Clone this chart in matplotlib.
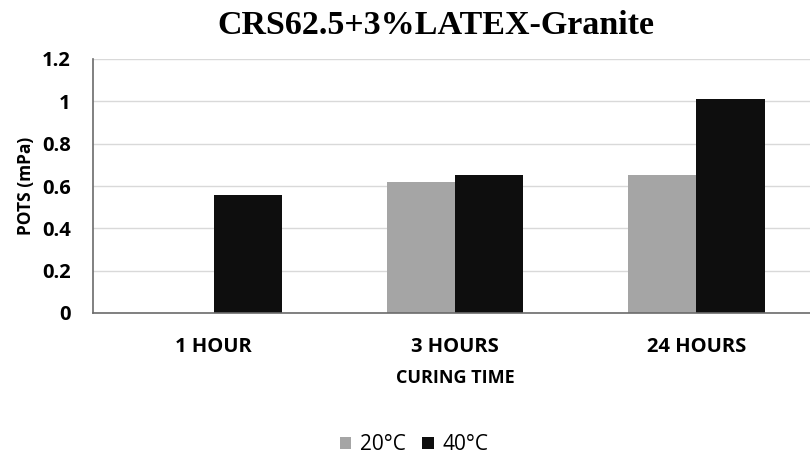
import matplotlib.pyplot as plt
import numpy as np

categories = ['1 HOUR', '3 HOURS', '24 HOURS']
temp_20 = [0.0, 0.62, 0.65]
temp_40 = [0.557, 0.65, 1.009]
series_labels = ['20°C', '40°C']
y_ticks = [0, 0.2, 0.4, 0.6, 0.8, 1.0, 1.2]
y_tick_labels = ['0', '0.2', '0.4', '0.6', '0.8', '1', '1.2']

sans = ['Open Sans', 'DejaVu Sans']

fig = plt.figure(figsize=(8.1, 4.54), dpi=100)
ax = fig.add_axes([93 / 810, 141 / 454, 724 / 810, 254 / 454])

x = np.arange(len(categories))
w = 0.283
ax.bar(x - w / 2, temp_20, w, color='#a5a5a5', label=series_labels[0], zorder=2)
ax.bar(x + w / 2, temp_40, w, color='#0e0e0e', label=series_labels[1], zorder=2)

ax.set_xlim(-0.5, 2.5)
ax.set_ylim(0, 1.2)
ax.set_yticks(y_ticks)
ax.set_yticklabels(y_tick_labels, family=sans, fontweight='bold', fontsize=14.5)
ax.set_xticks(x)
ax.set_xticklabels(categories, family=sans, fontweight='bold', fontsize=14.5)
ax.tick_params(axis='both', length=0)
ax.tick_params(axis='x', pad=17)
ax.tick_params(axis='y', pad=16)
ax.grid(axis='y', color='#d9d9d9', linewidth=1, zorder=0)
for side in ['top', 'right']:
    ax.spines[side].set_visible(False)
ax.spines['left'].set_color('#6b6b6b')
ax.spines['bottom'].set_color('#6b6b6b')
ax.spines['left'].set_linewidth(1.2)
ax.spines['bottom'].set_linewidth(1.2)

ax.set_ylabel('POTS (mPa)', family=sans, fontweight='bold', fontsize=12.5, labelpad=5)
fig.text(455 / 810, 1 - 378 / 454, 'CURING TIME', family=sans, fontweight='bold',
         fontsize=13, ha='center', va='center')
fig.text(436 / 810, 1 - 26 / 454, 'CRS62.5+3%LATEX-Granite', family='Liberation Serif',
         fontweight='bold', fontsize=24.5, ha='center', va='center')

fig.legend(loc='center', bbox_to_anchor=(414 / 810, 1 - 445 / 454), ncol=2, frameon=False,
           prop={'family': sans, 'size': 15}, handlelength=0.55, handleheight=0.55,
           handletextpad=0.4, columnspacing=0.8)

fig.savefig('out.png', dpi=100)
